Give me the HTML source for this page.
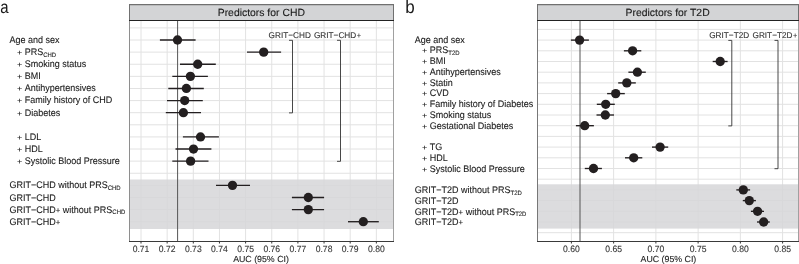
<!DOCTYPE html><html><head><meta charset="utf-8"><style>html,body{margin:0;padding:0;background:#fff;}svg{display:block;will-change:transform;}text{font-family:"Liberation Sans", sans-serif;text-rendering:geometricPrecision;}</style></head><body>
<svg width="799" height="264" viewBox="0 0 799 264">
<rect width="799" height="264" fill="#fff"/>
<text transform="translate(0.2,12.9) scale(0.88,1.04)" font-size="17" fill="#1a1a1a">a</text>
<text transform="translate(405.20,12.90) scale(1,1.065)" font-size="17" fill="#1a1a1a">b</text>
<line x1="141.0" y1="20.5" x2="141.0" y2="241.5" stroke="#e2e2e2" stroke-width="1"/>
<line x1="167.15" y1="20.5" x2="167.15" y2="241.5" stroke="#e2e2e2" stroke-width="1"/>
<line x1="193.3" y1="20.5" x2="193.3" y2="241.5" stroke="#e2e2e2" stroke-width="1"/>
<line x1="219.45" y1="20.5" x2="219.45" y2="241.5" stroke="#e2e2e2" stroke-width="1"/>
<line x1="245.6" y1="20.5" x2="245.6" y2="241.5" stroke="#e2e2e2" stroke-width="1"/>
<line x1="271.75" y1="20.5" x2="271.75" y2="241.5" stroke="#e2e2e2" stroke-width="1"/>
<line x1="297.9" y1="20.5" x2="297.9" y2="241.5" stroke="#e2e2e2" stroke-width="1"/>
<line x1="324.05" y1="20.5" x2="324.05" y2="241.5" stroke="#e2e2e2" stroke-width="1"/>
<line x1="350.2" y1="20.5" x2="350.2" y2="241.5" stroke="#e2e2e2" stroke-width="1"/>
<line x1="376.35" y1="20.5" x2="376.35" y2="241.5" stroke="#e2e2e2" stroke-width="1"/>
<line x1="129.5" y1="27.9" x2="393.5" y2="27.9" stroke="#e2e2e2" stroke-width="1"/>
<line x1="129.5" y1="40.01" x2="393.5" y2="40.01" stroke="#e2e2e2" stroke-width="1"/>
<line x1="129.5" y1="52.13" x2="393.5" y2="52.13" stroke="#e2e2e2" stroke-width="1"/>
<line x1="129.5" y1="64.24" x2="393.5" y2="64.24" stroke="#e2e2e2" stroke-width="1"/>
<line x1="129.5" y1="76.35" x2="393.5" y2="76.35" stroke="#e2e2e2" stroke-width="1"/>
<line x1="129.5" y1="88.47" x2="393.5" y2="88.47" stroke="#e2e2e2" stroke-width="1"/>
<line x1="129.5" y1="100.58" x2="393.5" y2="100.58" stroke="#e2e2e2" stroke-width="1"/>
<line x1="129.5" y1="112.69" x2="393.5" y2="112.69" stroke="#e2e2e2" stroke-width="1"/>
<line x1="129.5" y1="124.8" x2="393.5" y2="124.8" stroke="#e2e2e2" stroke-width="1"/>
<line x1="129.5" y1="136.92" x2="393.5" y2="136.92" stroke="#e2e2e2" stroke-width="1"/>
<line x1="129.5" y1="149.03" x2="393.5" y2="149.03" stroke="#e2e2e2" stroke-width="1"/>
<line x1="129.5" y1="161.14" x2="393.5" y2="161.14" stroke="#e2e2e2" stroke-width="1"/>
<line x1="129.5" y1="173.26" x2="393.5" y2="173.26" stroke="#e2e2e2" stroke-width="1"/>
<line x1="129.5" y1="185.37" x2="393.5" y2="185.37" stroke="#e2e2e2" stroke-width="1"/>
<line x1="129.5" y1="197.48" x2="393.5" y2="197.48" stroke="#e2e2e2" stroke-width="1"/>
<line x1="129.5" y1="209.59" x2="393.5" y2="209.59" stroke="#e2e2e2" stroke-width="1"/>
<line x1="129.5" y1="221.71" x2="393.5" y2="221.71" stroke="#e2e2e2" stroke-width="1"/>
<rect x="129.5" y="179.5" width="264.0" height="49.5" fill="rgba(214,214,216,0.85)"/>
<line x1="177.6" y1="20.5" x2="177.6" y2="241.5" stroke="#555555" stroke-width="1"/>
<path d="M289.0 40.309999999999995 H292.5 V112.89 H289.0" fill="none" stroke="#333333" stroke-width="0.9"/>
<path d="M337.0 40.309999999999995 H340.5 V161.33999999999997 H337.0" fill="none" stroke="#333333" stroke-width="0.9"/>
<text transform="translate(289.70,37.80) scale(1,1.02)" font-size="8.22" fill="#333" stroke="#333" stroke-width="0.1" text-anchor="middle">GRIT−CHD</text>
<text transform="translate(337.50,37.80) scale(1,1.02)" font-size="8.22" fill="#333" stroke="#333" stroke-width="0.1" text-anchor="middle">GRIT−CHD<tspan font-size="7.4" dx="0.5">+</tspan></text>
<line x1="159.9" y1="40.01" x2="195.6" y2="40.01" stroke="#231f20" stroke-width="1.35"/>
<circle cx="177.5" cy="40.01" r="4.65" fill="#231f20"/>
<line x1="247.0" y1="52.13" x2="281.1" y2="52.13" stroke="#231f20" stroke-width="1.35"/>
<circle cx="263.7" cy="52.13" r="4.65" fill="#231f20"/>
<line x1="180.0" y1="64.24" x2="215.8" y2="64.24" stroke="#231f20" stroke-width="1.35"/>
<circle cx="197.7" cy="64.24" r="4.65" fill="#231f20"/>
<line x1="172.3" y1="76.35" x2="207.9" y2="76.35" stroke="#231f20" stroke-width="1.35"/>
<circle cx="190.4" cy="76.35" r="4.65" fill="#231f20"/>
<line x1="168.3" y1="88.47" x2="203.8" y2="88.47" stroke="#231f20" stroke-width="1.35"/>
<circle cx="186.4" cy="88.47" r="4.65" fill="#231f20"/>
<line x1="167.0" y1="100.58" x2="202.8" y2="100.58" stroke="#231f20" stroke-width="1.35"/>
<circle cx="184.7" cy="100.58" r="4.65" fill="#231f20"/>
<line x1="165.8" y1="112.69" x2="201.0" y2="112.69" stroke="#231f20" stroke-width="1.35"/>
<circle cx="183.4" cy="112.69" r="4.65" fill="#231f20"/>
<line x1="182.9" y1="136.92" x2="218.9" y2="136.92" stroke="#231f20" stroke-width="1.35"/>
<circle cx="200.5" cy="136.92" r="4.65" fill="#231f20"/>
<line x1="175.5" y1="149.03" x2="211.4" y2="149.03" stroke="#231f20" stroke-width="1.35"/>
<circle cx="193.5" cy="149.03" r="4.65" fill="#231f20"/>
<line x1="172.3" y1="161.14" x2="208.5" y2="161.14" stroke="#231f20" stroke-width="1.35"/>
<circle cx="190.6" cy="161.14" r="4.65" fill="#231f20"/>
<line x1="216.0" y1="185.37" x2="250.0" y2="185.37" stroke="#231f20" stroke-width="1.35"/>
<circle cx="232.5" cy="185.37" r="4.65" fill="#231f20"/>
<line x1="291.9" y1="197.48" x2="324.1" y2="197.48" stroke="#231f20" stroke-width="1.35"/>
<circle cx="308.3" cy="197.48" r="4.65" fill="#231f20"/>
<line x1="291.9" y1="209.59" x2="324.1" y2="209.59" stroke="#231f20" stroke-width="1.35"/>
<circle cx="308.3" cy="209.59" r="4.65" fill="#231f20"/>
<line x1="348.0" y1="221.71" x2="378.8" y2="221.71" stroke="#231f20" stroke-width="1.35"/>
<circle cx="363.3" cy="221.71" r="4.65" fill="#231f20"/>
<line x1="129.5" y1="20.5" x2="129.5" y2="241.5" stroke="#8e8e8e" stroke-width="1"/>
<line x1="393.5" y1="20.5" x2="393.5" y2="241.5" stroke="#a0a0a0" stroke-width="1"/>
<line x1="129.0" y1="241.5" x2="394.0" y2="241.5" stroke="#3a3a3a" stroke-width="1"/>
<rect x="129.5" y="4.5" width="264.0" height="16.0" fill="#d3d4d6" stroke="#707070" stroke-width="1"/>
<line x1="129.5" y1="4.65" x2="393.5" y2="4.65" stroke="#707070" stroke-width="1.3"/>
<line x1="129.0" y1="20.5" x2="394.0" y2="20.5" stroke="#222222" stroke-width="1"/>
<text transform="translate(261.30,16.20) scale(1,1.0)" font-size="10.4" fill="#1a1a1a" stroke="#1a1a1a" stroke-width="0.12" text-anchor="middle">Predictors for CHD</text>
<line x1="141.0" y1="241.5" x2="141.0" y2="243.5" stroke="#333333" stroke-width="1"/>
<text transform="translate(141.00,251.60) scale(1,1.065)" font-size="8.6" fill="#333333" stroke="#333333" stroke-width="0.1" text-anchor="middle">0.71</text>
<line x1="167.15" y1="241.5" x2="167.15" y2="243.5" stroke="#333333" stroke-width="1"/>
<text transform="translate(167.15,251.60) scale(1,1.065)" font-size="8.6" fill="#333333" stroke="#333333" stroke-width="0.1" text-anchor="middle">0.72</text>
<line x1="193.3" y1="241.5" x2="193.3" y2="243.5" stroke="#333333" stroke-width="1"/>
<text transform="translate(193.30,251.60) scale(1,1.065)" font-size="8.6" fill="#333333" stroke="#333333" stroke-width="0.1" text-anchor="middle">0.73</text>
<line x1="219.45" y1="241.5" x2="219.45" y2="243.5" stroke="#333333" stroke-width="1"/>
<text transform="translate(219.45,251.60) scale(1,1.065)" font-size="8.6" fill="#333333" stroke="#333333" stroke-width="0.1" text-anchor="middle">0.74</text>
<line x1="245.6" y1="241.5" x2="245.6" y2="243.5" stroke="#333333" stroke-width="1"/>
<text transform="translate(245.60,251.60) scale(1,1.065)" font-size="8.6" fill="#333333" stroke="#333333" stroke-width="0.1" text-anchor="middle">0.75</text>
<line x1="271.75" y1="241.5" x2="271.75" y2="243.5" stroke="#333333" stroke-width="1"/>
<text transform="translate(271.75,251.60) scale(1,1.065)" font-size="8.6" fill="#333333" stroke="#333333" stroke-width="0.1" text-anchor="middle">0.76</text>
<line x1="297.9" y1="241.5" x2="297.9" y2="243.5" stroke="#333333" stroke-width="1"/>
<text transform="translate(297.90,251.60) scale(1,1.065)" font-size="8.6" fill="#333333" stroke="#333333" stroke-width="0.1" text-anchor="middle">0.77</text>
<line x1="324.05" y1="241.5" x2="324.05" y2="243.5" stroke="#333333" stroke-width="1"/>
<text transform="translate(324.05,251.60) scale(1,1.065)" font-size="8.6" fill="#333333" stroke="#333333" stroke-width="0.1" text-anchor="middle">0.78</text>
<line x1="350.2" y1="241.5" x2="350.2" y2="243.5" stroke="#333333" stroke-width="1"/>
<text transform="translate(350.20,251.60) scale(1,1.065)" font-size="8.6" fill="#333333" stroke="#333333" stroke-width="0.1" text-anchor="middle">0.79</text>
<line x1="376.35" y1="241.5" x2="376.35" y2="243.5" stroke="#333333" stroke-width="1"/>
<text transform="translate(376.35,251.60) scale(1,1.065)" font-size="8.6" fill="#333333" stroke="#333333" stroke-width="0.1" text-anchor="middle">0.80</text>
<text transform="translate(261.00,261.60) scale(1,1.0)" font-size="8.8" fill="#1a1a1a" stroke="#1a1a1a" stroke-width="0.1" text-anchor="middle">AUC (95% CI)</text>
<line x1="571.4" y1="20.5" x2="571.4" y2="241.5" stroke="#e2e2e2" stroke-width="1"/>
<line x1="613.64" y1="20.5" x2="613.64" y2="241.5" stroke="#e2e2e2" stroke-width="1"/>
<line x1="655.88" y1="20.5" x2="655.88" y2="241.5" stroke="#e2e2e2" stroke-width="1"/>
<line x1="698.12" y1="20.5" x2="698.12" y2="241.5" stroke="#e2e2e2" stroke-width="1"/>
<line x1="740.36" y1="20.5" x2="740.36" y2="241.5" stroke="#e2e2e2" stroke-width="1"/>
<line x1="782.6" y1="20.5" x2="782.6" y2="241.5" stroke="#e2e2e2" stroke-width="1"/>
<line x1="537.5" y1="29.4" x2="798.5" y2="29.4" stroke="#e2e2e2" stroke-width="1"/>
<line x1="537.5" y1="40.1" x2="798.5" y2="40.1" stroke="#e2e2e2" stroke-width="1"/>
<line x1="537.5" y1="50.8" x2="798.5" y2="50.8" stroke="#e2e2e2" stroke-width="1"/>
<line x1="537.5" y1="61.5" x2="798.5" y2="61.5" stroke="#e2e2e2" stroke-width="1"/>
<line x1="537.5" y1="72.2" x2="798.5" y2="72.2" stroke="#e2e2e2" stroke-width="1"/>
<line x1="537.5" y1="82.9" x2="798.5" y2="82.9" stroke="#e2e2e2" stroke-width="1"/>
<line x1="537.5" y1="93.6" x2="798.5" y2="93.6" stroke="#e2e2e2" stroke-width="1"/>
<line x1="537.5" y1="104.3" x2="798.5" y2="104.3" stroke="#e2e2e2" stroke-width="1"/>
<line x1="537.5" y1="115.0" x2="798.5" y2="115.0" stroke="#e2e2e2" stroke-width="1"/>
<line x1="537.5" y1="125.7" x2="798.5" y2="125.7" stroke="#e2e2e2" stroke-width="1"/>
<line x1="537.5" y1="136.4" x2="798.5" y2="136.4" stroke="#e2e2e2" stroke-width="1"/>
<line x1="537.5" y1="147.1" x2="798.5" y2="147.1" stroke="#e2e2e2" stroke-width="1"/>
<line x1="537.5" y1="157.8" x2="798.5" y2="157.8" stroke="#e2e2e2" stroke-width="1"/>
<line x1="537.5" y1="168.5" x2="798.5" y2="168.5" stroke="#e2e2e2" stroke-width="1"/>
<line x1="537.5" y1="179.2" x2="798.5" y2="179.2" stroke="#e2e2e2" stroke-width="1"/>
<line x1="537.5" y1="189.9" x2="798.5" y2="189.9" stroke="#e2e2e2" stroke-width="1"/>
<line x1="537.5" y1="200.6" x2="798.5" y2="200.6" stroke="#e2e2e2" stroke-width="1"/>
<line x1="537.5" y1="211.3" x2="798.5" y2="211.3" stroke="#e2e2e2" stroke-width="1"/>
<line x1="537.5" y1="222.0" x2="798.5" y2="222.0" stroke="#e2e2e2" stroke-width="1"/>
<line x1="537.5" y1="232.7" x2="798.5" y2="232.7" stroke="#e2e2e2" stroke-width="1"/>
<rect x="537.5" y="184.3" width="261.0" height="44.29999999999998" fill="rgba(214,214,216,0.85)"/>
<line x1="580.0" y1="20.5" x2="580.0" y2="241.5" stroke="#555555" stroke-width="1"/>
<path d="M728.3 40.4 H731.8 V125.9 H728.3" fill="none" stroke="#333333" stroke-width="0.9"/>
<path d="M774.5 40.4 H778.0 V168.7 H774.5" fill="none" stroke="#333333" stroke-width="0.9"/>
<text transform="translate(729.20,37.80) scale(1,1.02)" font-size="8.22" fill="#333" stroke="#333" stroke-width="0.1" text-anchor="middle">GRIT−T2D</text>
<text transform="translate(774.90,37.80) scale(1,1.02)" font-size="8.22" fill="#333" stroke="#333" stroke-width="0.1" text-anchor="middle">GRIT−T2D<tspan font-size="7.4" dx="0.5">+</tspan></text>
<line x1="570.9" y1="40.1" x2="588.9" y2="40.1" stroke="#231f20" stroke-width="1.35"/>
<circle cx="579.6" cy="40.1" r="4.65" fill="#231f20"/>
<line x1="623.9" y1="50.8" x2="641.3" y2="50.8" stroke="#231f20" stroke-width="1.35"/>
<circle cx="632.6" cy="50.8" r="4.65" fill="#231f20"/>
<line x1="712.7" y1="61.5" x2="727.6" y2="61.5" stroke="#231f20" stroke-width="1.35"/>
<circle cx="720.2" cy="61.5" r="4.65" fill="#231f20"/>
<line x1="628.4" y1="72.2" x2="645.8" y2="72.2" stroke="#231f20" stroke-width="1.35"/>
<circle cx="637.4" cy="72.2" r="4.65" fill="#231f20"/>
<line x1="618.2" y1="82.9" x2="635.8" y2="82.9" stroke="#231f20" stroke-width="1.35"/>
<circle cx="626.8" cy="82.9" r="4.65" fill="#231f20"/>
<line x1="607.1" y1="93.6" x2="624.8" y2="93.6" stroke="#231f20" stroke-width="1.35"/>
<circle cx="615.7" cy="93.6" r="4.65" fill="#231f20"/>
<line x1="596.8" y1="104.3" x2="614.8" y2="104.3" stroke="#231f20" stroke-width="1.35"/>
<circle cx="605.7" cy="104.3" r="4.65" fill="#231f20"/>
<line x1="596.5" y1="115.0" x2="614.0" y2="115.0" stroke="#231f20" stroke-width="1.35"/>
<circle cx="605.3" cy="115.0" r="4.65" fill="#231f20"/>
<line x1="575.9" y1="125.7" x2="593.9" y2="125.7" stroke="#231f20" stroke-width="1.35"/>
<circle cx="584.7" cy="125.7" r="4.65" fill="#231f20"/>
<line x1="652.0" y1="147.1" x2="668.2" y2="147.1" stroke="#231f20" stroke-width="1.35"/>
<circle cx="660.1" cy="147.1" r="4.65" fill="#231f20"/>
<line x1="625.0" y1="157.8" x2="642.3" y2="157.8" stroke="#231f20" stroke-width="1.35"/>
<circle cx="633.7" cy="157.8" r="4.65" fill="#231f20"/>
<line x1="584.8" y1="168.5" x2="601.9" y2="168.5" stroke="#231f20" stroke-width="1.35"/>
<circle cx="593.5" cy="168.5" r="4.65" fill="#231f20"/>
<line x1="736.3" y1="189.9" x2="750.1" y2="189.9" stroke="#231f20" stroke-width="1.35"/>
<circle cx="743.3" cy="189.9" r="4.65" fill="#231f20"/>
<line x1="742.8" y1="200.6" x2="755.9" y2="200.6" stroke="#231f20" stroke-width="1.35"/>
<circle cx="749.3" cy="200.6" r="4.65" fill="#231f20"/>
<line x1="750.9" y1="211.3" x2="764.0" y2="211.3" stroke="#231f20" stroke-width="1.35"/>
<circle cx="757.55" cy="211.3" r="4.65" fill="#231f20"/>
<line x1="757.0" y1="222.0" x2="769.8" y2="222.0" stroke="#231f20" stroke-width="1.35"/>
<circle cx="763.66" cy="222.0" r="4.65" fill="#231f20"/>
<line x1="537.5" y1="20.5" x2="537.5" y2="241.5" stroke="#777777" stroke-width="1"/>
<line x1="798.5" y1="20.5" x2="798.5" y2="241.5" stroke="#a0a0a0" stroke-width="1"/>
<line x1="537.0" y1="241.5" x2="799.0" y2="241.5" stroke="#3a3a3a" stroke-width="1"/>
<rect x="537.5" y="4.5" width="261.0" height="16.0" fill="#d3d4d6" stroke="#707070" stroke-width="1"/>
<line x1="537.5" y1="4.65" x2="798.5" y2="4.65" stroke="#707070" stroke-width="1.3"/>
<line x1="537.0" y1="20.5" x2="799.0" y2="20.5" stroke="#222222" stroke-width="1"/>
<text transform="translate(667.60,16.20) scale(1,1.0)" font-size="10.4" fill="#1a1a1a" stroke="#1a1a1a" stroke-width="0.12" text-anchor="middle">Predictors for T2D</text>
<line x1="571.4" y1="241.5" x2="571.4" y2="243.5" stroke="#333333" stroke-width="1"/>
<text transform="translate(571.40,251.60) scale(1,1.065)" font-size="8.6" fill="#333333" stroke="#333333" stroke-width="0.1" text-anchor="middle">0.60</text>
<line x1="613.64" y1="241.5" x2="613.64" y2="243.5" stroke="#333333" stroke-width="1"/>
<text transform="translate(613.64,251.60) scale(1,1.065)" font-size="8.6" fill="#333333" stroke="#333333" stroke-width="0.1" text-anchor="middle">0.65</text>
<line x1="655.88" y1="241.5" x2="655.88" y2="243.5" stroke="#333333" stroke-width="1"/>
<text transform="translate(655.88,251.60) scale(1,1.065)" font-size="8.6" fill="#333333" stroke="#333333" stroke-width="0.1" text-anchor="middle">0.70</text>
<line x1="698.12" y1="241.5" x2="698.12" y2="243.5" stroke="#333333" stroke-width="1"/>
<text transform="translate(698.12,251.60) scale(1,1.065)" font-size="8.6" fill="#333333" stroke="#333333" stroke-width="0.1" text-anchor="middle">0.75</text>
<line x1="740.36" y1="241.5" x2="740.36" y2="243.5" stroke="#333333" stroke-width="1"/>
<text transform="translate(740.36,251.60) scale(1,1.065)" font-size="8.6" fill="#333333" stroke="#333333" stroke-width="0.1" text-anchor="middle">0.80</text>
<line x1="782.6" y1="241.5" x2="782.6" y2="243.5" stroke="#333333" stroke-width="1"/>
<text transform="translate(782.60,251.60) scale(1,1.065)" font-size="8.6" fill="#333333" stroke="#333333" stroke-width="0.1" text-anchor="middle">0.85</text>
<text transform="translate(668.40,261.60) scale(1,1.0)" font-size="8.8" fill="#1a1a1a" stroke="#1a1a1a" stroke-width="0.1" text-anchor="middle">AUC (95% CI)</text>
<text transform="translate(9.50,42.76) scale(1,1.065)" font-size="9" fill="#1a1a1a" stroke="#1a1a1a" stroke-width="0.1">Age and sex</text>
<text transform="translate(16.90,54.91) scale(1,0.82)" font-size="9" fill="#1a1a1a" stroke="#1a1a1a" stroke-width="0.1">+</text>
<text transform="translate(24.66,54.91) scale(1,1.065)" font-size="9" fill="#1a1a1a" stroke="#1a1a1a" stroke-width="0.1">PRS<tspan font-size="5.95" dy="1.6">CHD</tspan></text>
<text transform="translate(16.90,67.05) scale(1,0.82)" font-size="9" fill="#1a1a1a" stroke="#1a1a1a" stroke-width="0.1">+</text>
<text transform="translate(24.66,67.05) scale(1,1.065)" font-size="9" fill="#1a1a1a" stroke="#1a1a1a" stroke-width="0.1">Smoking status</text>
<text transform="translate(16.90,79.19) scale(1,0.82)" font-size="9" fill="#1a1a1a" stroke="#1a1a1a" stroke-width="0.1">+</text>
<text transform="translate(24.66,79.19) scale(1,1.065)" font-size="9" fill="#1a1a1a" stroke="#1a1a1a" stroke-width="0.1">BMI</text>
<text transform="translate(16.90,91.34) scale(1,0.82)" font-size="9" fill="#1a1a1a" stroke="#1a1a1a" stroke-width="0.1">+</text>
<text transform="translate(24.66,91.34) scale(1,1.065)" font-size="9" fill="#1a1a1a" stroke="#1a1a1a" stroke-width="0.1">Antihypertensives</text>
<text transform="translate(16.90,103.48) scale(1,0.82)" font-size="9" fill="#1a1a1a" stroke="#1a1a1a" stroke-width="0.1">+</text>
<text transform="translate(24.66,103.48) scale(1,1.065)" font-size="9" fill="#1a1a1a" stroke="#1a1a1a" stroke-width="0.1">Family history of CHD</text>
<text transform="translate(16.90,115.62) scale(1,0.82)" font-size="9" fill="#1a1a1a" stroke="#1a1a1a" stroke-width="0.1">+</text>
<text transform="translate(24.66,115.62) scale(1,1.065)" font-size="9" fill="#1a1a1a" stroke="#1a1a1a" stroke-width="0.1">Diabetes</text>
<text transform="translate(16.90,139.91) scale(1,0.82)" font-size="9" fill="#1a1a1a" stroke="#1a1a1a" stroke-width="0.1">+</text>
<text transform="translate(24.66,139.91) scale(1,1.065)" font-size="9" fill="#1a1a1a" stroke="#1a1a1a" stroke-width="0.1">LDL</text>
<text transform="translate(16.90,152.05) scale(1,0.82)" font-size="9" fill="#1a1a1a" stroke="#1a1a1a" stroke-width="0.1">+</text>
<text transform="translate(24.66,152.05) scale(1,1.065)" font-size="9" fill="#1a1a1a" stroke="#1a1a1a" stroke-width="0.1">HDL</text>
<text transform="translate(16.90,164.19) scale(1,0.82)" font-size="9" fill="#1a1a1a" stroke="#1a1a1a" stroke-width="0.1">+</text>
<text transform="translate(24.66,164.19) scale(1,1.065)" font-size="9" fill="#1a1a1a" stroke="#1a1a1a" stroke-width="0.1">Systolic Blood Pressure</text>
<text transform="translate(9.50,188.48) scale(1,1.065)" font-size="9" fill="#1a1a1a" stroke="#1a1a1a" stroke-width="0.1">GRIT−CHD without PRS<tspan font-size="5.95" dy="1.6">CHD</tspan></text>
<text transform="translate(9.50,200.62) scale(1,1.065)" font-size="9" fill="#1a1a1a" stroke="#1a1a1a" stroke-width="0.1">GRIT−CHD</text>
<text transform="translate(9.50,212.76) scale(1,1.065)" font-size="9" fill="#1a1a1a" stroke="#1a1a1a" stroke-width="0.1">GRIT−CHD<tspan font-size="7.8">+</tspan> without PRS<tspan font-size="5.95" dy="1.6">CHD</tspan></text>
<text transform="translate(9.50,224.91) scale(1,1.065)" font-size="9" fill="#1a1a1a" stroke="#1a1a1a" stroke-width="0.1">GRIT−CHD<tspan font-size="7.8">+</tspan></text>
<text transform="translate(414.80,42.60) scale(1,1.065)" font-size="9" fill="#1a1a1a" stroke="#1a1a1a" stroke-width="0.1">Age and sex</text>
<text transform="translate(422.00,53.35) scale(1,0.82)" font-size="9" fill="#1a1a1a" stroke="#1a1a1a" stroke-width="0.1">+</text>
<text transform="translate(429.76,53.35) scale(1,1.065)" font-size="9" fill="#1a1a1a" stroke="#1a1a1a" stroke-width="0.1">PRS<tspan font-size="5.95" dy="1.6">T2D</tspan></text>
<text transform="translate(422.00,64.11) scale(1,0.82)" font-size="9" fill="#1a1a1a" stroke="#1a1a1a" stroke-width="0.1">+</text>
<text transform="translate(429.76,64.11) scale(1,1.065)" font-size="9" fill="#1a1a1a" stroke="#1a1a1a" stroke-width="0.1">BMI</text>
<text transform="translate(422.00,74.87) scale(1,0.82)" font-size="9" fill="#1a1a1a" stroke="#1a1a1a" stroke-width="0.1">+</text>
<text transform="translate(429.76,74.87) scale(1,1.065)" font-size="9" fill="#1a1a1a" stroke="#1a1a1a" stroke-width="0.1">Antihypertensives</text>
<text transform="translate(422.00,85.62) scale(1,0.82)" font-size="9" fill="#1a1a1a" stroke="#1a1a1a" stroke-width="0.1">+</text>
<text transform="translate(429.76,85.62) scale(1,1.065)" font-size="9" fill="#1a1a1a" stroke="#1a1a1a" stroke-width="0.1">Statin</text>
<text transform="translate(422.00,96.38) scale(1,0.82)" font-size="9" fill="#1a1a1a" stroke="#1a1a1a" stroke-width="0.1">+</text>
<text transform="translate(429.76,96.38) scale(1,1.065)" font-size="9" fill="#1a1a1a" stroke="#1a1a1a" stroke-width="0.1">CVD</text>
<text transform="translate(422.00,107.13) scale(1,0.82)" font-size="9" fill="#1a1a1a" stroke="#1a1a1a" stroke-width="0.1">+</text>
<text transform="translate(429.76,107.13) scale(1,1.065)" font-size="9" fill="#1a1a1a" stroke="#1a1a1a" stroke-width="0.1">Family history of Diabetes</text>
<text transform="translate(422.00,117.89) scale(1,0.82)" font-size="9" fill="#1a1a1a" stroke="#1a1a1a" stroke-width="0.1">+</text>
<text transform="translate(429.76,117.89) scale(1,1.065)" font-size="9" fill="#1a1a1a" stroke="#1a1a1a" stroke-width="0.1">Smoking status</text>
<text transform="translate(422.00,128.64) scale(1,0.82)" font-size="9" fill="#1a1a1a" stroke="#1a1a1a" stroke-width="0.1">+</text>
<text transform="translate(429.76,128.64) scale(1,1.065)" font-size="9" fill="#1a1a1a" stroke="#1a1a1a" stroke-width="0.1">Gestational Diabetes</text>
<text transform="translate(422.00,150.15) scale(1,0.82)" font-size="9" fill="#1a1a1a" stroke="#1a1a1a" stroke-width="0.1">+</text>
<text transform="translate(429.76,150.15) scale(1,1.065)" font-size="9" fill="#1a1a1a" stroke="#1a1a1a" stroke-width="0.1">TG</text>
<text transform="translate(422.00,160.91) scale(1,0.82)" font-size="9" fill="#1a1a1a" stroke="#1a1a1a" stroke-width="0.1">+</text>
<text transform="translate(429.76,160.91) scale(1,1.065)" font-size="9" fill="#1a1a1a" stroke="#1a1a1a" stroke-width="0.1">HDL</text>
<text transform="translate(422.00,171.66) scale(1,0.82)" font-size="9" fill="#1a1a1a" stroke="#1a1a1a" stroke-width="0.1">+</text>
<text transform="translate(429.76,171.66) scale(1,1.065)" font-size="9" fill="#1a1a1a" stroke="#1a1a1a" stroke-width="0.1">Systolic Blood Pressure</text>
<text transform="translate(414.80,193.17) scale(1,1.065)" font-size="9" fill="#1a1a1a" stroke="#1a1a1a" stroke-width="0.1">GRIT−T2D without PRS<tspan font-size="5.95" dy="1.6">T2D</tspan></text>
<text transform="translate(414.80,203.92) scale(1,1.065)" font-size="9" fill="#1a1a1a" stroke="#1a1a1a" stroke-width="0.1">GRIT−T2D</text>
<text transform="translate(414.80,214.68) scale(1,1.065)" font-size="9" fill="#1a1a1a" stroke="#1a1a1a" stroke-width="0.1">GRIT−T2D<tspan font-size="7.8">+</tspan> without PRS<tspan font-size="5.95" dy="1.6">T2D</tspan></text>
<text transform="translate(414.80,225.44) scale(1,1.065)" font-size="9" fill="#1a1a1a" stroke="#1a1a1a" stroke-width="0.1">GRIT−T2D<tspan font-size="7.8">+</tspan></text>
</svg></body></html>
